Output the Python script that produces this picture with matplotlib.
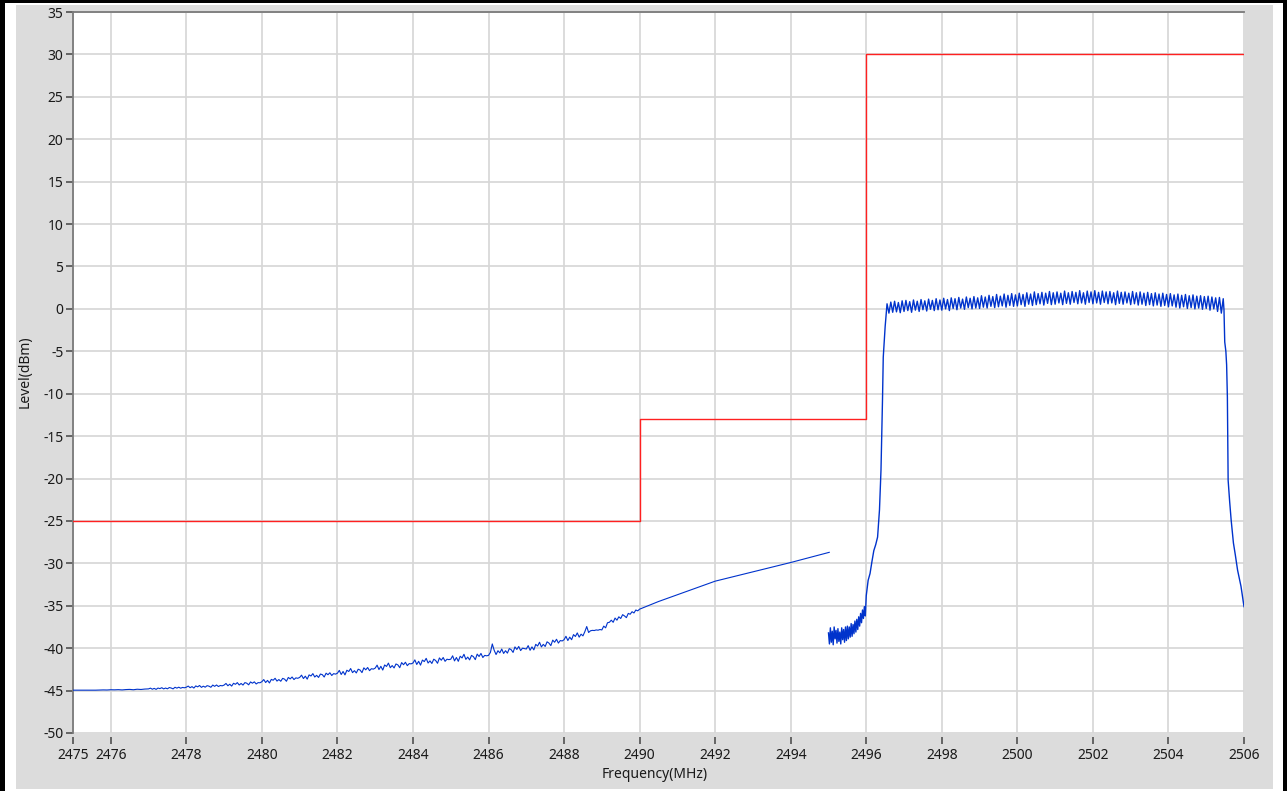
import numpy as np
import matplotlib
matplotlib.use("Agg")
import matplotlib.pyplot as plt
from matplotlib.patches import Rectangle

plt.rcParams['font.family'] = ['Noto Sans', 'DejaVu Sans']
plt.rcParams['axes.unicode_minus'] = False

# ---------------- data ----------------
# Limit mask (red step line)
mask_freq = [2475, 2490, 2490, 2496, 2496, 2506]
mask_level = [-25, -25, -13, -13, 30, 30]

# Trace part 1a: nearly flat floor, 2475.0 .. 2476.9 MHz in 0.1 MHz steps
flat_start, flat_step = 2475.0, 0.1
flat_level = [
    -44.95, -44.95, -44.96, -44.95, -44.95, -44.94, -44.95, -44.93, -44.92, -44.93,
    -44.90, -44.91, -44.89, -44.92, -44.88, -44.86, -44.90, -44.84, -44.87, -44.82,
]
# Trace part 1b: noisy floor, 2477.00 .. 2490.00 MHz in 0.05 MHz steps
oob_start, oob_step = 2477.0, 0.05
oob_level = [
    -44.80, -44.71, -44.84, -44.74, -44.86, -44.70, -44.77, -44.66, -44.80, -44.70,
    -44.79, -44.64, -44.70, -44.80, -44.61, -44.71, -44.60, -44.72, -44.63, -44.67,
    -44.60, -44.47, -44.66, -44.53, -44.70, -44.45, -44.56, -44.40, -44.62, -44.48,
    -44.60, -44.42, -44.48, -44.61, -44.35, -44.50, -44.34, -44.52, -44.40, -44.44,
    -44.35, -44.16, -44.43, -44.25, -44.47, -44.14, -44.26, -44.06, -44.34, -44.16,
    -44.35, -44.06, -44.13, -44.32, -43.98, -44.13, -43.97, -44.22, -44.06, -44.08,
    -43.95, -43.70, -44.05, -43.80, -44.10, -43.68, -43.78, -43.55, -43.88, -43.70,
    -43.90, -43.56, -43.65, -43.90, -43.45, -43.62, -43.40, -43.70, -43.50, -43.55,
    -43.45, -43.18, -43.58, -43.30, -43.65, -43.15, -43.28, -43.00, -43.40, -43.20,
    -43.45, -43.05, -43.12, -43.40, -42.95, -43.13, -42.90, -43.22, -43.00, -43.06,
    -42.95, -42.62, -43.10, -42.75, -43.15, -42.60, -42.75, -42.40, -42.88, -42.65,
    -42.92, -42.48, -42.58, -42.88, -42.32, -42.55, -42.28, -42.65, -42.42, -42.47,
    -42.35, -42.00, -42.52, -42.14, -42.58, -41.98, -42.15, -41.76, -42.30, -42.05,
    -42.33, -41.86, -41.97, -42.30, -41.70, -41.95, -41.66, -42.06, -41.82, -41.85,
    -41.75, -41.38, -41.92, -41.55, -42.00, -41.40, -41.58, -41.20, -41.75, -41.50,
    -41.80, -41.30, -41.45, -41.78, -41.15, -41.42, -41.10, -41.55, -41.30, -41.35,
    -41.30, -40.90, -41.50, -41.10, -41.55, -40.95, -41.15, -40.72, -41.32, -41.05,
    -41.38, -40.85, -41.00, -41.35, -40.70, -40.98, -40.62, -41.10, -40.85, -40.90,
    -40.85, -40.50, -39.50, -40.25, -40.75, -40.30, -40.55, -40.10, -40.62, -40.30,
    -40.58, -40.05, -40.18, -40.50, -39.85, -40.15, -39.80, -40.28, -40.00, -40.05,
    -40.10, -39.70, -40.25, -39.85, -40.20, -39.55, -39.75, -39.30, -39.85, -39.55,
    -39.80, -39.25, -39.40, -39.70, -39.05, -39.30, -38.95, -39.40, -39.10, -39.15,
    -39.00, -38.60, -39.10, -38.70, -39.00, -38.40, -38.62, -38.20, -38.70, -38.35,
    -38.55, -38.05, -37.45, -38.15, -37.95, -37.90, -37.92, -37.85, -37.88, -37.80,
    -37.85, -37.40, -37.60, -37.00, -36.95, -36.70, -36.95, -36.45, -36.70, -36.30,
    -36.50, -36.05, -36.20, -36.40, -35.90, -36.00, -35.70, -35.85, -35.50, -35.60,
    -35.40,
]
# Trace part 1c: sparse points 2490.5 .. 2495
tail_freq = [2490.5, 2491.0, 2491.5, 2492.0, 2493.0, 2494.0, 2495.02]
tail_level = [-34.5, -33.7, -32.9, -32.1, -31.0, -29.9, -28.7]

# Trace part 2: lower skirt noise 2495.000 .. 2495.975 MHz, 0.025 MHz steps
skirt_start, skirt_step = 2495.0, 0.025
skirt_level = [
    -38.2, -39.5, -37.6, -39.3, -38.0, -39.6, -37.5, -38.9, -37.9, -39.4,
    -37.7, -39.2, -38.1, -39.5, -37.6, -39.0, -37.8, -39.3, -37.5, -39.1,
    -37.4, -38.9, -37.5, -38.7, -37.1, -38.6, -37.2, -38.3, -36.8, -38.1,
    -36.6, -37.8, -36.3, -37.4, -35.9, -37.0, -35.5, -36.5, -35.1, -36.2,
]

# Rising edge
rise_freq = [2496.0, 2496.05, 2496.1, 2496.15, 2496.2, 2496.25, 2496.3, 2496.35,
             2496.39, 2496.43, 2496.45, 2496.5, 2496.53]
rise_level = [-33.8, -32.0, -31.2, -29.8, -28.5, -27.8, -26.9, -23.7,
              -19.0, -10.7, -5.7, -2.1, -0.5]

# In-band ripple 2496.55 .. 2505.45 MHz, 0.05 MHz steps
band_start, band_step = 2496.55, 0.05
band_level = [
    0.6, -0.5, 0.8, -0.4, 0.9, -0.35, 0.75, -0.45, 0.95,
    -0.3, 1.0, -0.2, 0.85, -0.4, 1.05, -0.15, 0.9, -0.3, 1.1, -0.1, 0.95, -0.25, 1.15, -0.05, 1.0, -0.2, 1.2, -0.1, 1.05,
    -0.15, 1.25, 0.0, 1.1, -0.2, 1.3, 0.05, 1.2, -0.1, 1.35, 0.1, 1.15, -0.05, 1.4, 0.15, 1.25, 0.0, 1.45, 0.1, 1.3,
    0.05, 1.55, 0.2, 1.4, 0.1, 1.6, 0.3, 1.45, 0.15, 1.7, 0.25, 1.5, 0.35, 1.75, 0.2, 1.6, 0.4, 1.8, 0.3, 1.65,
    0.35, 1.85, 0.5, 1.7, 0.3, 1.9, 0.55, 1.75, 0.4, 2.0, 0.5, 1.8, 0.6, 1.95, 0.45, 1.85, 0.65, 2.05, 0.5, 1.9,
    0.55, 2.0, 0.7, 1.85, 0.5, 2.1, 0.65, 1.9, 0.55, 2.05, 0.75, 1.95, 0.6, 2.15, 0.7, 1.9, 0.55, 2.1, 0.75, 2.0,
    0.6, 2.15, 0.7, 1.95, 0.55, 2.1, 0.75, 2.0, 0.6, 2.05, 0.7, 1.9, 0.5, 2.1, 0.65, 1.95, 0.55, 2.0, 0.7, 1.85,
    0.5, 2.05, 0.6, 1.9, 0.45, 2.0, 0.55, 1.85, 0.4, 1.95, 0.5, 1.8, 0.35, 1.9, 0.45, 1.75, 0.3, 1.85, 0.4, 1.7,
    0.25, 1.8, 0.35, 1.65, 0.2, 1.75, 0.1, 1.6, 0.25, 1.7, 0.05, 1.55, 0.15, 1.65, 0.0, 1.5, 0.1, 1.55, -0.05, 1.45,
    0.05, 1.5, -0.15, 1.4, 0.0, 1.3, -0.3, 1.35, -0.5, 1.2,
]

# Falling edge
fall_freq = [2505.47, 2505.49, 2505.52, 2505.54, 2505.56, 2505.58, 2505.62, 2505.66,
             2505.72, 2505.77, 2505.83, 2505.92, 2506.0]
fall_level = [-0.1, -3.9, -5.0, -6.6, -10.4, -20.2, -22.7, -24.9,
              -27.6, -29.0, -30.8, -32.7, -35.1]

x_ticks = [2475, 2476, 2478, 2480, 2482, 2484, 2486, 2488, 2490, 2492, 2494,
           2496, 2498, 2500, 2502, 2504, 2506]
y_ticks = list(range(-50, 36, 5))

x_label = "Frequency(MHz)"
y_label = "Level(dBm)"

# ---------------- figure ----------------
W, H = 1287, 791
fig = plt.figure(figsize=(W / 100, H / 100), dpi=100, facecolor='white')

def px_rect(x0, y0, x1, y1, color):
    fig.patches.append(Rectangle((x0 / W, 1 - y1 / H), (x1 - x0) / W, (y1 - y0) / H,
                                 transform=fig.transFigure, facecolor=color,
                                 edgecolor='none', zorder=-10))

# outer black frame and gray panel
px_rect(0, 0, 5, H, 'black')
px_rect(0, 0, W, 3, 'black')
px_rect(1283, 0, W, H, 'black')
px_rect(16, 5, 1273, 789, '#dcdcdc')

ax_l, ax_r, ax_t, ax_b = 73, 1244, 12, 733
ax = fig.add_axes([ax_l / W, 1 - ax_b / H, (ax_r - ax_l) / W, (ax_b - ax_t) / H])
ax.set_facecolor('white')

ax.set_xlim(2475, 2506)
ax.set_ylim(-50, 35)
ax.set_xticks(x_ticks)
ax.set_yticks(y_ticks)
ax.grid(True, color='#d6d6d6', linewidth=1.2)
ax.set_axisbelow(True)

for s in ['right', 'bottom']:
    ax.spines[s].set_visible(False)
for s in ['left', 'top']:
    ax.spines[s].set_color('#7a7a7a')
    ax.spines[s].set_linewidth(1.3)
ax.spines['bottom'].set_position(('outward', 3))

ax.tick_params(axis='both', direction='out', length=5, width=1.1, color='#444444',
               labelsize=10, labelcolor='#1a1a1a', pad=2)
ax.tick_params(axis='x', pad=3)

# mask
ax.plot(mask_freq, mask_level, color='#ff2020', linewidth=1.0, zorder=3)

# trace
flat_freq = flat_start + flat_step * np.arange(len(flat_level))
oob_freq = oob_start + oob_step * np.arange(len(oob_level))
seg1_f = np.concatenate([flat_freq, oob_freq, tail_freq])
seg1_l = np.concatenate([flat_level, oob_level, tail_level])
ax.plot(seg1_f, seg1_l, color='#0033cc', linewidth=0.8, zorder=4)

skirt_freq = skirt_start + skirt_step * np.arange(len(skirt_level))
band_freq = band_start + band_step * np.arange(len(band_level))
seg2_f = np.concatenate([skirt_freq, rise_freq, band_freq, fall_freq])
seg2_l = np.concatenate([skirt_level, rise_level, band_level, fall_level])
ax.plot(seg2_f, seg2_l, color='#0033cc', linewidth=1.0, zorder=4)

fig.text(25 / W, 1 - 372 / H, y_label, rotation=90, ha='center', va='center',
         fontsize=10, color='#1a1a1a')
fig.text(655 / W, 1 - 775 / H, x_label, ha='center', va='center',
         fontsize=10, color='#1a1a1a')

fig.savefig('out.png', dpi=100, facecolor=fig.get_facecolor())
